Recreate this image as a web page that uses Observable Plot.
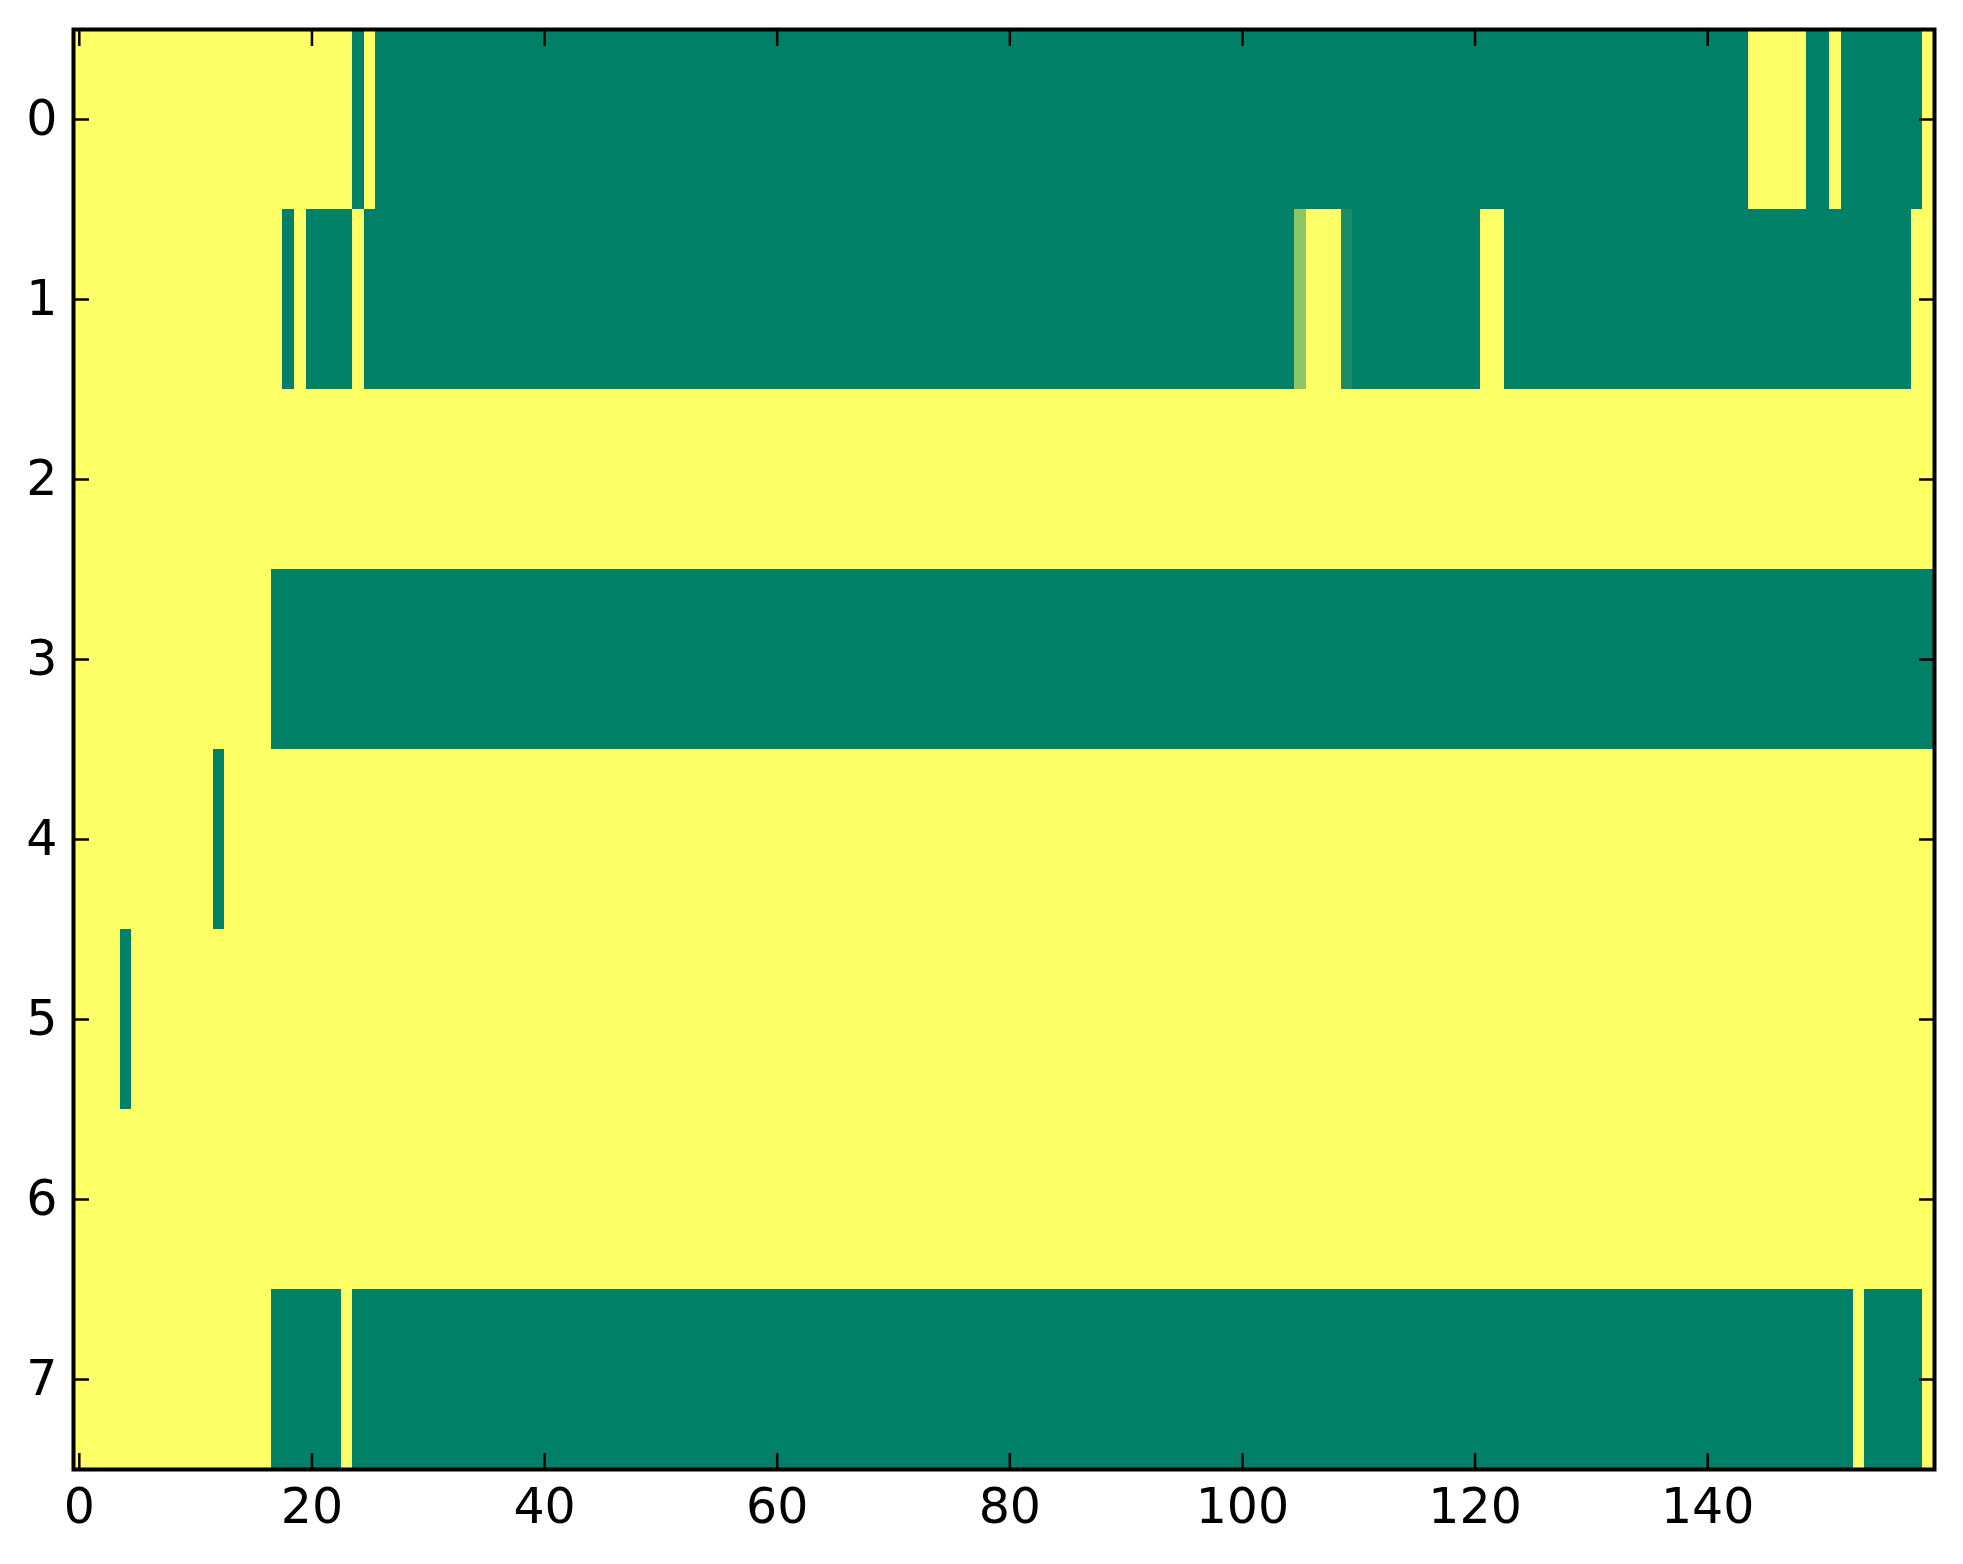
<!DOCTYPE html>
<html>
<head>
<meta charset="utf-8">
<script src="https://cdn.jsdelivr.net/npm/d3@7"></script>
<script src="https://cdn.jsdelivr.net/npm/@observablehq/plot@0.6"></script>
<style>
  body { margin: 0; background: #fff; }
  #chart svg { display: block; }
</style>
</head>
<body>
<div id="chart"></div>
<script>
// runs per row: [first column, last column, value]  (0 = green, 1 = yellow)
const row0 = [[0, 23, 1], [24, 24, 0], [25, 25, 1], [26, 143, 0], [144, 148, 1], [149, 150, 0], [151, 151, 1], [152, 158, 0], [159, 159, 1]];
const row1 = [[0, 17, 1], [18, 18, 0], [19, 19, 1], [20, 23, 0], [24, 24, 1], [25, 104, 0], [105, 105, 0.55], [106, 108, 1], [109, 109, 0.1], [110, 120, 0], [121, 122, 1], [123, 157, 0], [158, 159, 1]];
const row2 = [[0, 159, 1]];
const row3 = [[0, 16, 1], [17, 159, 0]];
const row4 = [[0, 11, 1], [12, 12, 0], [13, 159, 1]];
const row5 = [[0, 3, 1], [4, 4, 0], [5, 159, 1]];
const row6 = [[0, 159, 1]];
const row7 = [[0, 16, 1], [17, 22, 0], [23, 23, 1], [24, 152, 0], [153, 153, 1], [154, 158, 0], [159, 159, 1]];

const rows = [row0, row1, row2, row3, row4, row5, row6, row7];
const nCols = 160;
const xTicks = [0, 20, 40, 60, 80, 100, 120, 140];
const yTicks = [0, 1, 2, 3, 4, 5, 6, 7];

// one rect per run
const runs = rows.flatMap((r, i) => r.map(([a, b, v]) => ({row: i, from: a, to: b, v})));

const W = 1963, H = 1564;
const tick = 16, fs = 49;

const chart = Plot.plot({
  width: W,
  height: H,
  marginLeft: 73,
  marginRight: 29,
  marginTop: 29,
  marginBottom: 95,
  style: {fontFamily: "DejaVu Sans", fontSize: fs + "px", background: "#fff", color: "#000"},
  x: {domain: [-0.5, nCols - 0.5], label: null},
  y: {domain: [rows.length - 0.5, -0.5], label: null},
  color: {type: "linear", domain: [0, 1], range: ["#008066", "#ffff66"], interpolate: "rgb"},
  marks: [
    Plot.rect(runs, {
      x1: d => d.from - 0.5,
      x2: d => d.to + 0.5,
      y1: d => d.row - 0.5,
      y2: d => d.row + 0.5,
      fill: "v",
      shapeRendering: "crispEdges"
    }),
    // inward tick marks on all four sides
    Plot.axisX(xTicks, {anchor: "bottom", tickSize: tick, dy: -tick, strokeWidth: 2.5, tickFormat: () => ""}),
    Plot.axisX(xTicks, {anchor: "top", tickSize: tick, dy: tick, strokeWidth: 2.5, tickFormat: () => ""}),
    Plot.axisY(yTicks, {anchor: "left", tickSize: tick, dx: tick, strokeWidth: 2.5, tickFormat: () => ""}),
    Plot.axisY(yTicks, {anchor: "right", tickSize: tick, dx: -tick, strokeWidth: 2.5, tickFormat: () => ""}),
    // tick labels
    Plot.axisX(xTicks, {anchor: "bottom", tickSize: 0, tickPadding: 19, fontSize: fs, tickFormat: "d"}),
    Plot.axisY(yTicks, {anchor: "left", tickSize: 0, tickPadding: 16, fontSize: fs, tickFormat: "d"}),
    Plot.frame({stroke: "#000", strokeWidth: 4})
  ]
});

d3.select("#chart").append(() => chart);
</script>
</body>
</html>
